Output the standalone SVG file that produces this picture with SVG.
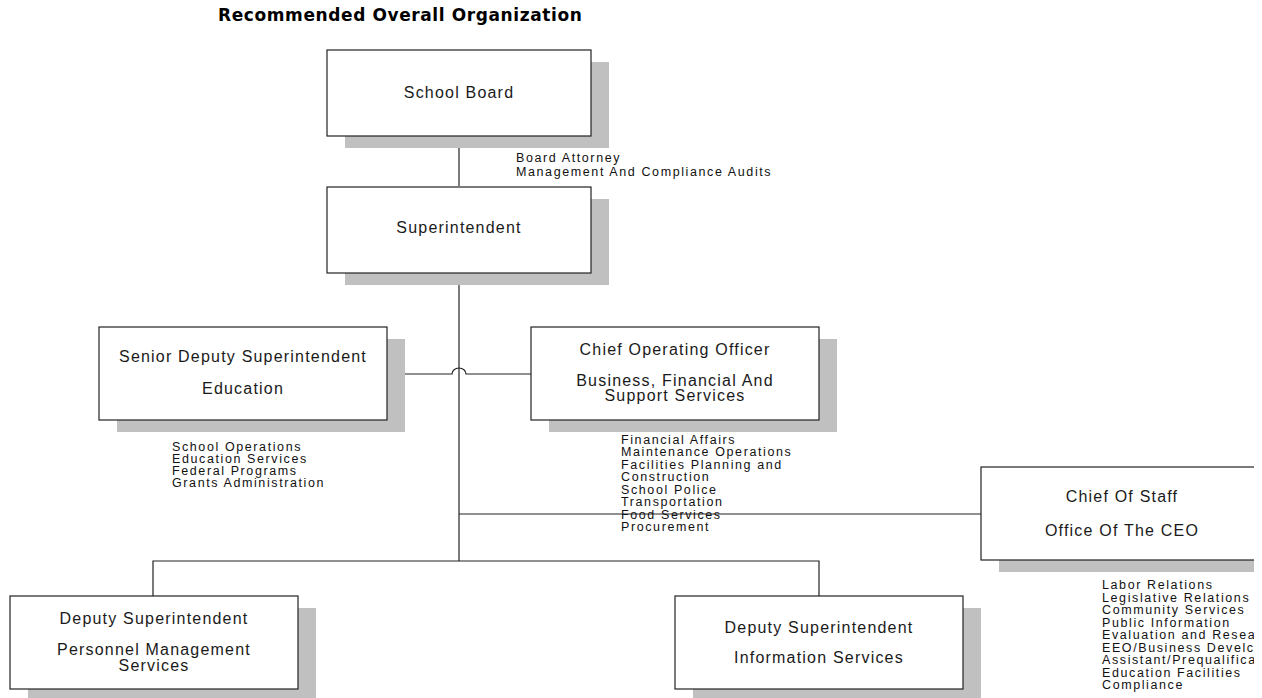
<svg xmlns="http://www.w3.org/2000/svg" width="1262" height="698" viewBox="0 0 1262 698">
<style>
.box{fill:#fff;stroke:#222;stroke-width:1.2}
.sh{fill:#c0c0c0}
.bt{font-family:"Liberation Sans",Arial,sans-serif;font-size:16px;letter-spacing:1.2px;fill:#1a1a1a;text-anchor:middle}
.lt{font-family:"Liberation Sans",Arial,sans-serif;font-size:12.5px;letter-spacing:1.6px;fill:#111}
.ln{fill:none;stroke:#222;stroke-width:1.2}
.title{font-family:"DejaVu Sans","Liberation Sans",Arial,sans-serif;font-size:17px;font-weight:bold;letter-spacing:0.6px;fill:#000}
</style>
<defs>
<clipPath id="clipR"><rect x="0" y="0" width="1254" height="698"/></clipPath>
</defs>
<rect width="1262" height="698" fill="#fff"/>
<text class="title" x="218" y="21">Recommended Overall Organization</text>

<g id="connectors">
<path class="ln" d="M459,136 V186"/>
<path class="ln" d="M459,272 V561"/>
<path class="ln" d="M388,374 H452 A7,6 0 0 1 466,374 H531"/>
<path class="ln" d="M459,514 H981"/>
<path class="ln" d="M153,596 V561 H819 V596"/>
</g>

<g id="school-board">
<rect class="sh" x="345" y="62" width="264" height="86"/>
<rect class="box" x="327" y="50" width="264" height="86"/>
<text class="bt" x="459" y="98">School Board</text>
<text class="lt" x="516" y="162">Board Attorney</text>
<text class="lt" x="516" y="176">Management And Compliance Audits</text>
</g>

<g id="superintendent">
<rect class="sh" x="345" y="199" width="264" height="86"/>
<rect class="box" x="327" y="187" width="264" height="86"/>
<text class="bt" x="459" y="233">Superintendent</text>
</g>

<g id="senior-deputy">
<rect class="sh" x="117" y="339" width="288" height="93"/>
<rect class="box" x="99" y="327" width="288" height="93"/>
<text class="bt" x="243" y="362">Senior Deputy Superintendent</text>
<text class="bt" x="243" y="394">Education</text>
<text class="lt" x="172" y="451">School Operations</text>
<text class="lt" x="172" y="463">Education Services</text>
<text class="lt" x="172" y="475">Federal Programs</text>
<text class="lt" x="172" y="487">Grants Administration</text>
</g>

<g id="coo">
<rect class="sh" x="549" y="339" width="288" height="93"/>
<rect class="box" x="531" y="327" width="288" height="93"/>
<text class="bt" x="675" y="355">Chief Operating Officer</text>
<text class="bt" x="675" y="386">Business, Financial And</text>
<text class="bt" x="675" y="401">Support Services</text>
<text class="lt" x="621" y="443.5">Financial Affairs</text>
<text class="lt" x="621" y="456">Maintenance Operations</text>
<text class="lt" x="621" y="468.5">Facilities Planning and</text>
<text class="lt" x="621" y="481">Construction</text>
<text class="lt" x="621" y="493.5">School Police</text>
<text class="lt" x="621" y="506">Transportation</text>
<text class="lt" x="621" y="518.5">Food Services</text>
<text class="lt" x="621" y="531">Procurement</text>
</g>

<g id="chief-of-staff" clip-path="url(#clipR)">
<rect class="sh" x="999" y="479" width="288" height="93"/>
<rect class="box" x="981" y="467" width="288" height="93"/>
<text class="bt" x="1122" y="502">Chief Of Staff</text>
<text class="bt" x="1122" y="536">Office Of The CEO</text>
<text class="lt" x="1102" y="589">Labor Relations</text>
<text class="lt" x="1102" y="601.5">Legislative Relations</text>
<text class="lt" x="1102" y="614">Community Services</text>
<text class="lt" x="1102" y="626.5">Public Information</text>
<text class="lt" x="1102" y="639">Evaluation and Resea</text>
<text class="lt" x="1102" y="651.5">EEO/Business Develc</text>
<text class="lt" x="1102" y="664">Assistant/Prequalifica</text>
<text class="lt" x="1102" y="676.5">Education Facilities</text>
<text class="lt" x="1102" y="689">Compliance</text>
</g>

<g id="deputy-personnel">
<rect class="sh" x="28" y="608" width="288" height="93"/>
<rect class="box" x="10" y="596" width="288" height="93"/>
<text class="bt" x="154" y="624">Deputy Superintendent</text>
<text class="bt" x="154" y="655">Personnel Management</text>
<text class="bt" x="154" y="671">Services</text>
</g>

<g id="deputy-information">
<rect class="sh" x="693" y="608" width="288" height="93"/>
<rect class="box" x="675" y="596" width="288" height="93"/>
<text class="bt" x="819" y="633">Deputy Superintendent</text>
<text class="bt" x="819" y="663">Information Services</text>
</g>
</svg>
